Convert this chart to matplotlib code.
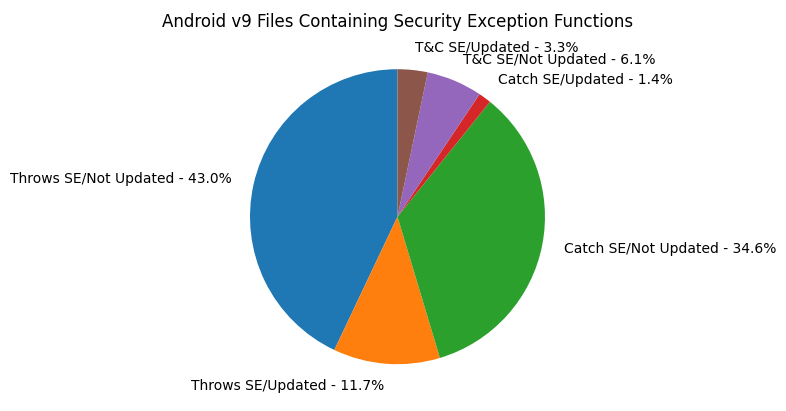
import matplotlib
matplotlib.use("Agg")
import matplotlib.pyplot as plt

categories = ["Throws SE/Not Updated", "Throws SE/Updated", "Catch SE/Not Updated",
              "Catch SE/Updated", "T&C SE/Not Updated", "T&C SE/Updated"]
percents = [43.0, 11.7, 34.6, 1.4, 6.1, 3.3]

labels = ["{} - {:.1f}%".format(c, p) for c, p in zip(categories, percents)]

fig = plt.figure(figsize=(7.86, 4.11), dpi=100)
# square axes, pie radius about 147 px
ax = fig.add_axes([0.2993, 0.0780, 0.4128, 0.7895])
ax.pie(percents, labels=labels, startangle=90, labeldistance=1.15)
ax.set_xlim(-1.1, 1.1)
ax.set_ylim(-1.1, 1.1)
ax.set_aspect("equal")
ax.set_title("Android v9 Files Containing Security Exception Functions", pad=20)
fig.savefig("out.png")
